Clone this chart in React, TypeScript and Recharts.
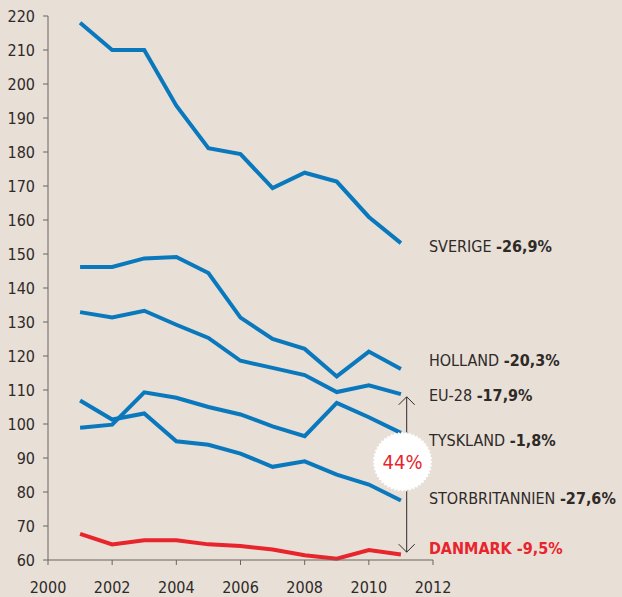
import { LineChart, Line, XAxis, YAxis, ReferenceLine, ReferenceDot } from 'recharts'

const years = [2001, 2002, 2003, 2004, 2005, 2006, 2007, 2008, 2009, 2010, 2011]
const sverige = [218, 210, 210, 193.6, 181.1, 179.4, 169.4, 173.9, 171.3, 160.9, 153.2]
const holland = [146.2, 146.2, 148.7, 149.1, 144.4, 131.3, 125, 122.1, 114, 121.3, 116.2]
const eu28 = [132.9, 131.3, 133.3, 129.2, 125.3, 118.6, 116.5, 114.4, 109.4, 111.4, 108.8]
const tyskland = [98.9, 99.8, 109.3, 107.7, 105, 102.8, 99.3, 96.4, 106.2, 102, 97.4]
const storbritannien = [106.9, 101.3, 103.1, 94.9, 93.9, 91.3, 87.4, 89, 85.1, 82.2, 77.5]
const danmark = [67.7, 64.6, 65.8, 65.8, 64.6, 64.1, 63.1, 61.4, 60.4, 62.9, 61.6]

const xTicks = [2000, 2002, 2004, 2006, 2008, 2010, 2012]
const yTicks = [60, 70, 80, 90, 100, 110, 120, 130, 140, 150, 160, 170, 180, 190, 200, 210, 220]

const BLUE = '#0a78bd'
const RED = '#e8242c'
const TEXT = '#2e2a28'
const BG = '#e8dfd7'
const FONT = "'DejaVu Sans', sans-serif"
const tickStyle = { fill: TEXT, fontSize: 16, fontFamily: FONT, fontStretch: 'condensed' }

const series = [
  { key: 'sverige', name: 'SVERIGE', change: '-26,9%', color: BLUE, dy: 3 },
  { key: 'holland', name: 'HOLLAND', change: '-20,3%', color: BLUE, dy: -9 },
  { key: 'eu28', name: 'EU-28', change: '-17,9%', color: BLUE, dy: 1 },
  { key: 'tyskland', name: 'TYSKLAND', change: '-1,8%', color: BLUE, dy: 7 },
  { key: 'storbritannien', name: 'STORBRITANNIEN', change: '-27,6%', color: BLUE, dy: -3 },
  { key: 'danmark', name: 'DANMARK', change: '-9,5%', color: RED, dy: -7 },
]

const data = years.map((year, i) => ({
  year,
  sverige: sverige[i],
  holland: holland[i],
  eu28: eu28[i],
  tyskland: tyskland[i],
  storbritannien: storbritannien[i],
  danmark: danmark[i],
}))

const endLabel = (s: typeof series[number]) => (props: any) => {
  const { x, y, index } = props
  if (index !== years.length - 1) return null
  const isDk = s.key === 'danmark'
  return (
    <text x={x + 28} y={y + s.dy} dominantBaseline="central" fontFamily={FONT} fontSize={16}
      style={{ fontStretch: 'condensed' }}
      fill={isDk ? RED : TEXT} fontWeight={isDk ? 'bold' : 'normal'}>
      <tspan>{s.name} </tspan>
      <tspan fontWeight="bold">{s.change}</tspan>
    </text>
  )
}

const DoubleArrow = (props: any) => {
  const { x1, y1, y2 } = props
  const top = Math.min(y1, y2)
  const bot = Math.max(y1, y2)
  return (
    <g stroke={TEXT} strokeWidth={1} fill="none">
      <line x1={x1} y1={top} x2={x1} y2={bot} />
      <polyline points={`${x1 - 8},${top + 8} ${x1},${top} ${x1 + 8},${top + 8}`} />
      <polyline points={`${x1 - 8},${bot - 8} ${x1},${bot} ${x1 + 8},${bot - 8}`} />
    </g>
  )
}

const Badge = (props: any) => {
  const { cx, cy } = props
  const n = 48
  const pts: string[] = []
  for (let i = 0; i < n * 2; i++) {
    const a = (Math.PI * i) / n
    const r = i % 2 === 0 ? 30 : 28
    pts.push(`${cx + r * Math.cos(a)},${cy + r * Math.sin(a)}`)
  }
  return (
    <g>
      <polygon points={pts.join(' ')} fill="#ffffff" />
      <text x={cx} y={cy} textAnchor="middle" dominantBaseline="central" fontFamily={FONT}
        style={{ fontStretch: 'condensed' }} fontSize={20} fill={RED}>44%</text>
    </g>
  )
}

export default function App() {
  return (
    <div style={{ position: 'absolute', left: 0, top: 0, width: 622, height: 597, background: BG }}>
      <LineChart width={622} height={597} data={data}
        margin={{ top: 16, right: 189, left: 0, bottom: 0 }}>
        <XAxis dataKey="year" type="number" domain={[2000, 2012]} ticks={xTicks}
          stroke="#6b6561" tickSize={5} tickMargin={17} height={37} tick={tickStyle} />
        <YAxis domain={[60, 220]} ticks={yTicks} width={48} stroke="#6b6561"
          tickSize={5} tickMargin={8} interval={0} tick={tickStyle} />
        <ReferenceLine segment={[{ x: 2011.18, y: 108 }, { x: 2011.18, y: 62.3 }]}
          shape={DoubleArrow} ifOverflow="visible" />
        {series.map(s => (
          <Line key={s.key} dataKey={s.key} stroke={s.color} strokeWidth={4} dot={false}
            strokeLinejoin="miter" isAnimationActive={false} label={endLabel(s)} />
        ))}
        <ReferenceDot x={2011.05} y={88.9} r={30} shape={Badge} ifOverflow="visible" />
      </LineChart>
    </div>
  )
}
